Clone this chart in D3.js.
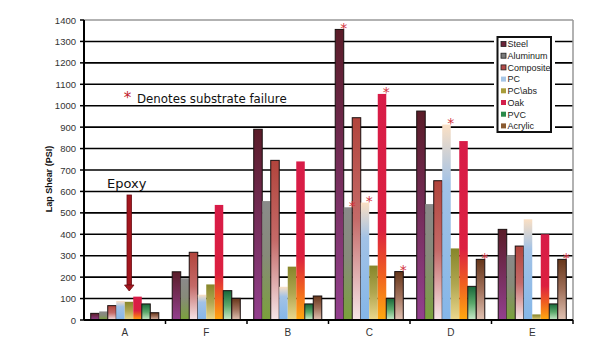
<!DOCTYPE html>
<html><head><meta charset="utf-8">
<script src="https://cdn.jsdelivr.net/npm/d3@7"></script>
<style>html,body{margin:0;padding:0;background:#fff;}svg{display:block;}</style>
</head><body>
<svg id="c" width="615" height="350"></svg>
<script>
const groups = ["A","F","B","C","D","E"];
const seriesNames = ["Steel","Aluminum","Composite","PC","PC\\abs","Oak","PVC","Acrylic"];
const steel     = [31, 225, 890, 1356, 975, 423];
const aluminum  = [40, 195, 555, 526, 541, 303];
const composite = [67, 316, 745, 944, 650, 345];
const pc        = [89, 118, 155, 548, 912, 470];
const pcabs     = [85, 166, 249, 254, 334, 26];
const oak       = [109, 537, 740, 1055, 835, 400];
const pvc       = [75, 137, 75, 101, 157, 75];
const acrylic   = [34, 101, 112, 226, 283, 283];
const seriesValues = [steel, aluminum, composite, pc, pcabs, oak, pvc, acrylic];
const yTicks = [0,100,200,300,400,500,600,700,800,900,1000,1100,1200,1300,1400];
// substrate failure markers: [group, series]
const failures = [["C","Steel"],["C","Aluminum"],["C","PC"],["C","Oak"],["C","Acrylic"],["D","PC"],["D","Acrylic"],["E","Acrylic"]];

const grads = {
  "Steel":    [[0,"#5a1c28"],[1,"#93408f"]],
  "Aluminum": [[0,"#8a8a8a"],[0.45,"#878a7a"],[1,"#7aa23a"]],
  "Composite":[[0,"#b2443c"],[0.5,"#c46a68"],[1,"#f6e6e8"]],
  "PC":       [[0,"#fbe0c4"],[0.3,"#a2c2e6"],[1,"#84b6e8"]],
  "PC\\abs":  [[0,"#86862a"],[0.5,"#b0a650"],[1,"#ecd88e"]],
  "Oak":      [[0,"#d81c48"],[0.6,"#dc2040"],[0.8,"#f06020"],[1,"#ffaa10"]],
  "PVC":      [[0,"#18663a"],[0.5,"#5aa86a"],[1,"#cdeccc"]],
  "Acrylic":  [[0,"#66361a"],[0.5,"#a0705a"],[1,"#e2c4b4"]]
};
const legendSw = {"Steel":"#6b2438","Aluminum":"#7a7a7a","Composite":"#b24a48","PC":"#a6c6e6","PC\\abs":"#a89c3a","Oak":"#d21e4a","PVC":"#2a8a4a","Acrylic":"#8a5a30"};
const outlined = {"Steel":true,"Composite":true,"PVC":true,"Acrylic":true,"Oak":false,"Aluminum":false,"PC":false,"PC\\abs":false};

const svg = d3.select("#c");
const X0=84, X1=573, Y0=20, Y1=320;
const x = d3.scaleBand().domain(groups).range([X0,X1]).paddingInner(0).paddingOuter(0);
const xs = d3.scaleBand().domain(seriesNames).range([0,x.bandwidth()]).paddingInner(0).paddingOuter(0.79);
const y = d3.scaleLinear().domain([0,1400]).range([Y1,Y0]);

const defs = svg.append("defs");
seriesNames.forEach((s,i)=>{
  const g = defs.append("linearGradient").attr("id","g"+i).attr("x1",0).attr("y1",0).attr("x2",0).attr("y2",1);
  grads[s].forEach(st=>g.append("stop").attr("offset",st[0]).attr("stop-color",st[1]));
});

// gridlines
svg.append("g").selectAll("line").data(yTicks.filter(t=>t>0&&t<1400)).join("line")
  .attr("x1",X0).attr("x2",X1).attr("y1",d=>y(d)).attr("y2",d=>y(d))
  .attr("stroke","#000").attr("stroke-width",1.6);
// top & right border
svg.append("line").attr("x1",X0).attr("x2",X1).attr("y1",y(1400)).attr("y2",y(1400)).attr("stroke","#999").attr("stroke-width",1.5);
svg.append("line").attr("x1",X1).attr("x2",X1).attr("y1",Y0).attr("y2",Y1).attr("stroke","#999").attr("stroke-width",1.5);

// legend background (covers gridlines)
svg.append("rect").attr("x",494).attr("y",33).attr("width",61).attr("height",102).attr("fill","#fff");

// bars
const gG = svg.append("g").selectAll("g").data(groups).join("g").attr("transform",d=>`translate(${x(d)},0)`);
gG.selectAll("rect").data((g,gi)=>seriesNames.map((s,si)=>({s,si,v:seriesValues[si][gi]}))).join("rect")
  .attr("x",d=>xs(d.s)).attr("width",xs.bandwidth())
  .attr("y",d=>y(d.v)).attr("height",d=>y(0)-y(d.v))
  .attr("fill",d=>`url(#g${d.si})`)
  .attr("stroke",d=>outlined[d.s]?"#1a1010":"none").attr("stroke-width",1);

// failure asterisks
svg.append("g").selectAll("text").data(failures).join("text")
  .attr("x",d=>x(d[0])+xs(d[1])+xs.bandwidth())
  .attr("y",d=>y(seriesValues[seriesNames.indexOf(d[1])][groups.indexOf(d[0])])+3.5)
  .attr("text-anchor","middle").attr("font-family","DejaVu Sans, sans-serif")
  .attr("font-size",14).attr("fill","#d23240").text("*");

// y axis
svg.append("line").attr("x1",X0).attr("x2",X0).attr("y1",Y0).attr("y2",Y1).attr("stroke","#000").attr("stroke-width",2);
svg.append("g").selectAll("line").data(yTicks).join("line")
  .attr("x1",X0-4).attr("x2",X0).attr("y1",d=>y(d)).attr("y2",d=>y(d)).attr("stroke","#000").attr("stroke-width",1.5);
svg.append("g").selectAll("text").data(yTicks).join("text")
  .attr("x",X0-8).attr("y",d=>y(d)+3.5).attr("text-anchor","end")
  .attr("font-family","Liberation Sans, Arial, sans-serif").attr("font-size",9.5).attr("fill","#333").text(d=>d);
// x axis
svg.append("line").attr("x1",X0).attr("x2",X1).attr("y1",Y1).attr("y2",Y1).attr("stroke","#000").attr("stroke-width",2);
svg.append("g").selectAll("line").data(groups.map(g=>x(g)+x.bandwidth())).join("line")
  .attr("x1",d=>d).attr("x2",d=>d).attr("y1",Y1).attr("y2",Y1+4).attr("stroke","#000").attr("stroke-width",1.5);
svg.append("g").selectAll("text").data(groups).join("text")
  .attr("x",d=>x(d)+x.bandwidth()/2).attr("y",Y1+16).attr("text-anchor","middle")
  .attr("font-family","Liberation Sans, Arial, sans-serif").attr("font-size",10).attr("fill","#333").text(d=>d);

// y label
svg.append("text").attr("transform","translate(52,179) rotate(-90)").attr("text-anchor","middle")
  .attr("font-family","Liberation Sans, Arial, sans-serif").attr("font-size",9).attr("font-weight","bold").attr("fill","#111")
  .text("Lap Shear (PSI)");

// legend
svg.append("rect").attr("x",497.5).attr("y",37).attr("width",53.5).attr("height",95).attr("fill","#fff").attr("stroke","#111").attr("stroke-width",2);
const lg = svg.append("g").selectAll("g").data(seriesNames).join("g").attr("transform",(d,i)=>`translate(501,${44+i*11.7})`);
lg.append("rect").attr("x",0).attr("y",-2.5).attr("width",5).attr("height",5)
  .attr("fill",d=>legendSw[d]).attr("stroke",(d,i)=>i<3?"#222":"none").attr("stroke-width",0.8);
lg.append("text").attr("x",6.5).attr("y",3.3).attr("font-family","Liberation Sans, Arial, sans-serif")
  .attr("font-size",9).attr("fill","#222").text(d=>d);

// annotations
svg.append("text").attr("x",127.5).attr("y",103).attr("text-anchor","middle").attr("font-family","DejaVu Sans, sans-serif")
  .attr("font-size",15).attr("fill","#c0202a").text("*");
svg.append("text").attr("x",137).attr("y",103).attr("font-family","DejaVu Sans, sans-serif")
  .attr("font-size",11.8).attr("fill","#111").text("Denotes substrate failure");
svg.append("text").attr("x",107).attr("y",188).attr("font-family","DejaVu Sans, sans-serif")
  .attr("font-size",13).attr("fill","#111").text("Epoxy");
// arrow
svg.append("rect").attr("x",127).attr("y",195).attr("width",4.5).attr("height",90).attr("fill","#a3161e").attr("stroke","#6a0c12").attr("stroke-width",0.8);
svg.append("path").attr("d","M124.5,285 L134,285 L129.25,291 Z").attr("fill","#a3161e").attr("stroke","#6a0c12").attr("stroke-width",0.8);
</script>
</body></html>
